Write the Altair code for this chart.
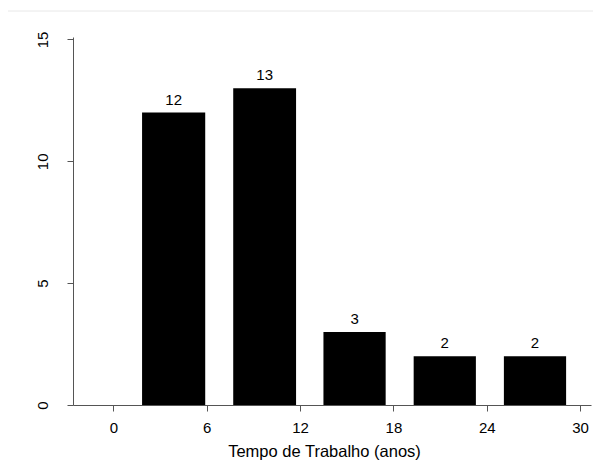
import altair as alt
import pandas as pd

bin_start = [1.84, 7.7, 13.5, 19.3, 25.1]
bin_end = [5.9, 11.74, 17.5, 23.3, 29.1]
counts = [12, 13, 3, 2, 2]
x_ticks = [0, 6, 12, 18, 24, 30]
y_ticks = [0, 5, 10, 15]

df = pd.DataFrame({"x0": bin_start, "x1": bin_end, "n": counts})
df["xm"] = (df["x0"] + df["x1"]) / 2

FONT = "Liberation Sans"

xscale = alt.Scale(domain=[-2.6, 30.7], nice=False, zero=False)
yscale = alt.Scale(domain=[0, 15.1], nice=False)

bars = alt.Chart(df).mark_rect(color="black").encode(
    x=alt.X("x0:Q", scale=xscale,
            axis=alt.Axis(values=x_ticks, title="Tempo de Trabalho (anos)", grid=False,
                          tickSize=6, labelPadding=9, labelFontSize=15, labelFont=FONT,
                          labelColor="black", titleFont=FONT, titleFontSize=16.5,
                          titleFontWeight="normal", titleColor="black",
                          titleY=46, titleBaseline="middle", titleX=251,
                          domainColor="#555", tickColor="#555", labelFlush=False)),
    x2="x1:Q",
    y=alt.Y("n:Q", scale=yscale,
            axis=alt.Axis(values=y_ticks, title=None, grid=False, tickSize=6,
                          labelAngle=270, labelAlign="center", labelBaseline="middle",
                          labelPadding=25, labelFontSize=15, labelFont=FONT,
                          labelColor="black", domainColor="#555", tickColor="#555",
                          labelFlush=False)),
    y2=alt.datum(0),
)

labels = alt.Chart(df).mark_text(baseline="bottom", dy=-5, fontSize=15, font=FONT,
                                  color="black").encode(
    x=alt.X("xm:Q", scale=xscale),
    y=alt.Y("n:Q", scale=yscale),
    text="n:Q",
)

border = alt.Chart(df.head(1)).mark_rule(color="#e8e8e8", strokeWidth=1).encode(
    x=alt.value(-66), x2=alt.value(530), y=alt.value(-26)
)

chart = alt.layer(border, bars, labels).properties(
    width=518, height=368,
    autosize=alt.AutoSizeParams(type="none"),
    padding={"left": 65, "top": 29, "right": 2, "bottom": 56},
    background="white",
).configure_view(stroke=None)

chart.save("out.html", embed_options={"renderer": "svg", "actions": False})
